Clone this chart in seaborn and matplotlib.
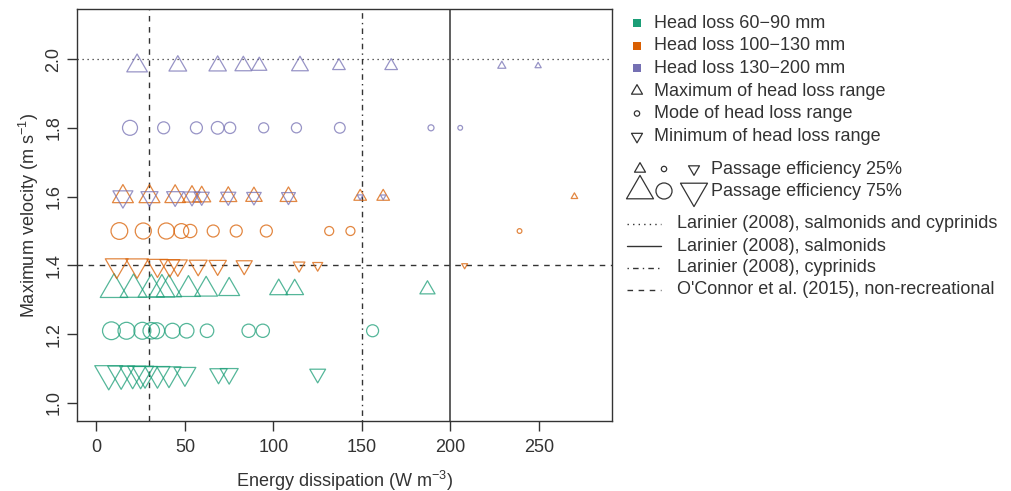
import numpy as np
import pandas as pd
import matplotlib
matplotlib.use('Agg')
import matplotlib.pyplot as plt
import seaborn as sns
from matplotlib.path import Path

# --- data -----------------------------------------------------------------
# energy dissipation (W m-3) and passage efficiency (%) for each marker
green_max_x = [10, 21, 31, 37, 41, 52, 62, 75, 103, 112, 187]
green_max_pe = [77, 75, 73, 72, 70, 66, 62, 56, 47, 46, 38]
green_mode_x = [8.5, 17, 26, 31, 34, 43, 51, 62.5, 86, 94, 156]
green_mode_pe = [83, 79, 79, 77, 75, 70, 68, 63, 62, 62, 56]
green_min_x = [7, 14, 20.5, 25, 27.5, 34.5, 41, 50, 69, 75, 125]
green_min_pe = [78, 75, 72, 72, 69, 69, 66, 59, 45, 47, 40]

orange_max_x = [15, 30, 44.5, 54, 59.5, 74.5, 89, 108.5, 149, 162, 270]
orange_max_pe = [56, 56, 55, 50, 47, 44, 42, 43, 30, 30, 11]
orange_mode_x = [13, 26.5, 39.5, 48, 53, 66, 79, 96, 131.5, 143.5, 239]
orange_mode_pe = [78, 75, 75, 69, 62, 56, 56, 56, 42, 42, 22]
orange_min_x = [11.5, 23, 34.5, 41.5, 46, 57.5, 68.5, 83.5, 114.5, 125, 208]
orange_min_pe = [62, 61, 56, 53, 50, 47, 45, 41, 27, 22, 9]

purple_max_x = [23, 46, 68.5, 83, 92, 115, 137, 166.5, 229, 249.5]
purple_max_pe = [55, 46, 45, 43, 38, 43, 30, 30, 16, 10]
purple_mode_x = [19, 38, 56.5, 68.5, 75.5, 94.5, 113, 137.5, 189, 205.5]
purple_mode_pe = [70, 56, 56, 59, 53, 47, 47, 50, 28, 22]
purple_min_x = [15, 30, 44.5, 54, 59.5, 74.5, 89, 108.5, 149, 162]
purple_min_pe = [53, 44, 44, 41, 38, 38, 36, 34, 9, 8]

# maximum velocity (m s-1) for each head loss level
green_v = [1.33, 1.21, 1.085]
orange_v = [1.60, 1.50, 1.40]
purple_v = [1.98, 1.80, 1.60]

groups = ['Head loss 60\u221290 mm', 'Head loss 100\u2212130 mm', 'Head loss 130\u2212200 mm']
colors = ['#1B9E77', '#D95F02', '#7570B3']

# --- style ----------------------------------------------------------------
sns.set_theme(style='ticks')
plt.rcParams['font.family'] = ['Liberation Sans', 'DejaVu Sans']
plt.rcParams['mathtext.fontset'] = 'custom'
plt.rcParams['mathtext.rm'] = 'Liberation Sans'
plt.rcParams['mathtext.default'] = 'regular'
plt.rcParams['font.size'] = 13
dark = '#333333'

# R-like equilateral triangles (point at centroid)
tri_up = Path([(0, 1.555), (-1.347, -0.778), (1.347, -0.778), (0, 1.555)], closed=True)
tri_down = Path([(0, -1.555), (-1.347, 0.778), (1.347, 0.778), (0, -1.555)], closed=True)


def tri_s(pe):
    w = 3 + 0.32 * np.asarray(pe, dtype=float)   # width in px
    return (w * 0.72 / 0.866) ** 2


def circ_s(pe):
    d = 0.214 * np.asarray(pe, dtype=float)      # diameter in px
    return (d * 0.72) ** 2


fig = plt.figure(figsize=(10.11, 4.91), dpi=100)
ax = fig.add_axes([0.0757, 0.1426, 0.5296, 0.8384])

# reference lines
ax.axhline(2.0, color=dark, lw=0.9, ls=(0, (1, 3)))
ax.axvline(200, color=dark, lw=1.1, ls='-')
ax.axvline(150, color=dark, lw=1.0, ls=(0, (1, 3, 4, 3)))
ax.axvline(30, color=dark, lw=1.0, ls=(0, (4, 4)))
ax.axhline(1.4, color=dark, lw=1.0, ls=(0, (4, 4)))


def draw(xs, v, pe, marker, sizefun, col):
    d = pd.DataFrame({'energy': xs, 'velocity': v})
    sns.scatterplot(data=d, x='energy', y='velocity', ax=ax, marker=marker,
                    s=sizefun(pe), color=col, facecolor='none', edgecolor=col,
                    linewidth=0.9, alpha=0.75, legend=False, zorder=3)


series = [
    (green_max_x, green_max_pe, green_mode_x, green_mode_pe, green_min_x, green_min_pe, green_v, colors[0]),
    (orange_max_x, orange_max_pe, orange_mode_x, orange_mode_pe, orange_min_x, orange_min_pe, orange_v, colors[1]),
    (purple_max_x, purple_max_pe, purple_mode_x, purple_mode_pe, purple_min_x, purple_min_pe, purple_v, colors[2]),
]
for mx, mpe, ox, ope, nx, npe, v, col in series:
    draw(mx, v[0], mpe, tri_up, tri_s, col)
    draw(ox, v[1], ope, 'o', circ_s, col)
    draw(nx, v[2], npe, tri_down, tri_s, col)

ax.set_xlim(-11.2, 291.2)
ax.set_ylim(0.9477, 2.1445)
ax.set_xticks(np.arange(0, 251, 50))
yt = np.arange(1.0, 2.01, 0.2)
ax.set_yticks(yt)
ax.set_yticklabels([f'{t:.1f}' for t in yt], rotation=90, va='center')
ax.tick_params(axis='both', direction='out', length=7.2, width=1.0, color=dark,
               labelcolor=dark, labelsize=13)
ax.tick_params(axis='x', pad=6)
ax.tick_params(axis='y', pad=3)
for sp in ax.spines.values():
    sp.set_visible(True)
    sp.set_color(dark)
    sp.set_linewidth(1.0)
ax.set_xlabel('Energy dissipation (W m$^{-3}$)', color=dark, fontsize=13, labelpad=9)
ax.set_ylabel('Maximum velocity (m s$^{-1}$)', color=dark, fontsize=13, labelpad=3)

# --- legend drawn in pixel space -----------------------------------------
lax = fig.add_axes([0, 0, 1, 1])
lax.set_xlim(0, 1011)
lax.set_ylim(491, 0)
lax.axis('off')

rows_y = [23, 45.7, 68, 91, 113.5, 136.5, 169, 191, 224, 246, 268, 290]
for i, (g, col) in enumerate(zip(groups, colors)):
    lax.scatter([637], [rows_y[i]], marker='s', s=5.3 ** 2, color=col, linewidths=0)
    lax.text(654, rows_y[i], g, va='center', ha='left', color=dark, fontsize=13)

shape_labels = ['Maximum of head loss range', 'Mode of head loss range', 'Minimum of head loss range']
shape_markers = [(tri_up, tri_s), ('o', circ_s), (tri_down, tri_s)]
for i, (lab, (m, sf)) in enumerate(zip(shape_labels, shape_markers)):
    yy = rows_y[3 + i]
    lax.scatter([637], [yy], marker=m, s=sf([25]), facecolor='none', edgecolor=dark, linewidths=0.9)
    lax.text(654, yy, lab, va='center', ha='left', color=dark, fontsize=13)

for j, pe in enumerate([25, 75]):
    yy = rows_y[6 + j]
    for xx, (m, sf) in zip([640, 664, 694], shape_markers):
        lax.scatter([xx], [yy], marker=m, s=sf([pe]), facecolor='none', edgecolor=dark, linewidths=0.9)
    lax.text(711, yy, f'Passage efficiency {pe}%', va='center', ha='left', color=dark, fontsize=13)

line_labels = ['Larinier (2008), salmonids and cyprinids', 'Larinier (2008), salmonids',
               'Larinier (2008), cyprinids', "O'Connor et al. (2015), non-recreational"]
line_styles = [(0, (1, 3)), '-', (0, (1, 3, 4, 3)), (0, (4, 4))]
for k, (lab, ls) in enumerate(zip(line_labels, line_styles)):
    yy = rows_y[8 + k]
    lax.plot([627, 661], [yy, yy], color=dark, lw=1.0, ls=ls)
    lax.text(677, yy, lab, va='center', ha='left', color=dark, fontsize=13)

fig.savefig('out.png', dpi=100)
